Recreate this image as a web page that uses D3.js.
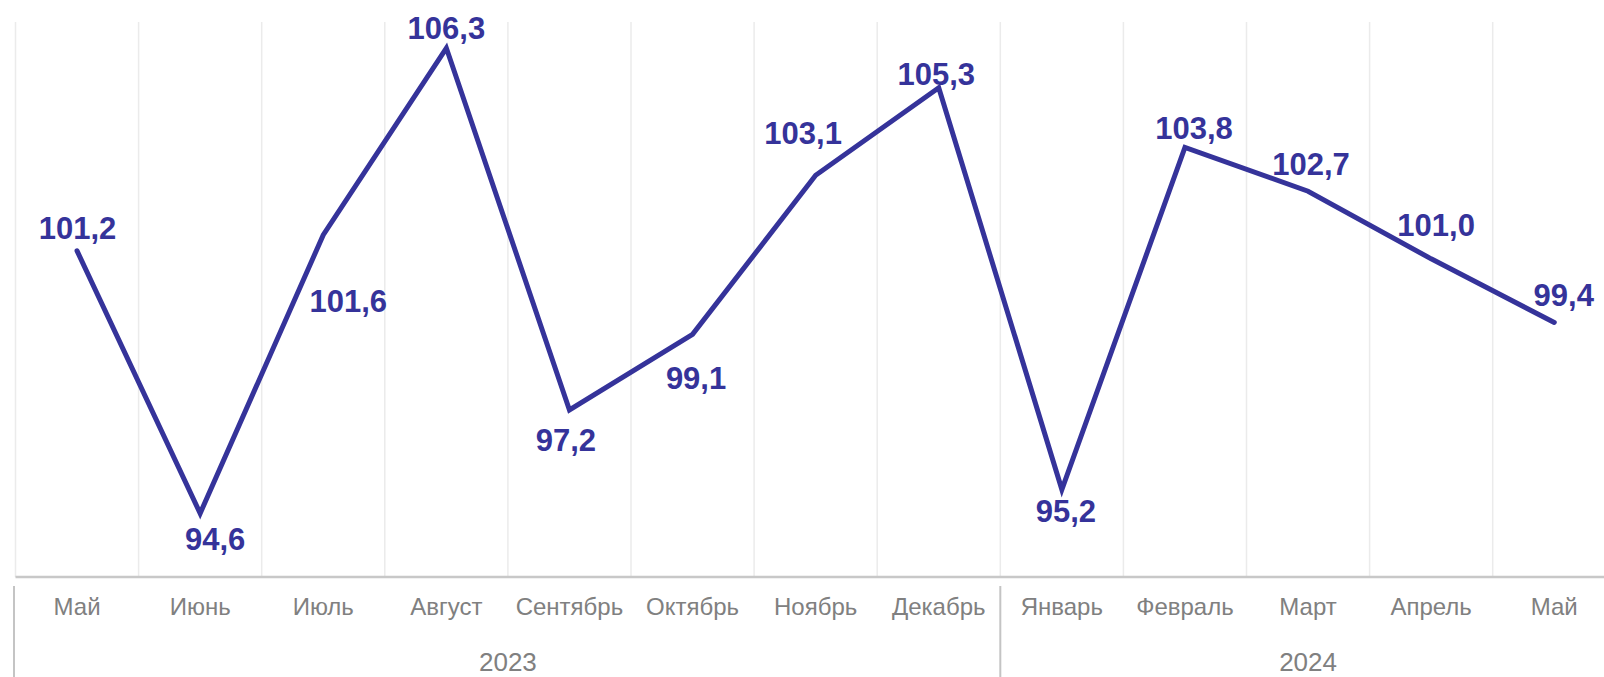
<!DOCTYPE html>
<html>
<head>
<meta charset="utf-8">
<script src="https://cdn.jsdelivr.net/npm/d3@7"></script>
<style>
  html, body { margin: 0; padding: 0; background: #fff; overflow: hidden; }
  svg { display: block; }
  text { font-family: "Liberation Sans", Arial, sans-serif; }
</style>
</head>
<body>
<svg id="chart" width="1604" height="677"></svg>
<script>
// ---- data ----
const months = ["Май", "Июнь", "Июль", "Август", "Сентябрь", "Октябрь", "Ноябрь", "Декабрь",
                "Январь", "Февраль", "Март", "Апрель", "Май"];
const years = ["2023", "2024"];
const yearOfMonth = [0, 0, 0, 0, 0, 0, 0, 0, 1, 1, 1, 1, 1];
const values = [101.2, 94.6, 101.6, 106.3, 97.2, 99.1, 103.1, 105.3, 95.2, 103.8, 102.7, 101.0, 99.4];

// ---- layout (label placement relative to the point) ----
const labelDx = [0.5, 15, 25, 0, -3.5, 3.5, -12.5, -2.5, 4, 9, 3, 5, 9.5];
const labelDy = [-11.5, 36.5, 77, -9, 40.7, 54.4, -31, -3, 32, -8.4, -16, -23, -16.4];

const svg = d3.select("#chart");
const bandW = 123.1;
const x0 = 15.5;
const keys = months.map((m, i) => i);
const x = d3.scaleBand().domain(keys).range([x0, x0 + bandW * months.length]).padding(0);
const y = d3.scaleLinear().domain([93, 107]).range([577, 20.2]);

const lineColor = "#35339a";

// vertical gridlines at band boundaries
const bounds = keys.map(k => x(k)).concat([x(keys.length - 1) + x.bandwidth()]);
svg.append("g").selectAll("line").data(bounds).join("line")
  .attr("x1", d => d).attr("x2", d => d)
  .attr("y1", 22).attr("y2", y(93))
  .attr("stroke", "#ebebeb").attr("stroke-width", 1.5);

// axis baseline
svg.append("line")
  .attr("x1", x0).attr("x2", 1604)
  .attr("y1", y(93)).attr("y2", y(93))
  .attr("stroke", "#c8c8c8").attr("stroke-width", 2.5);

// category (month) labels
svg.append("g").selectAll("text").data(months).join("text")
  .attr("x", (d, i) => x(i) + x.bandwidth() / 2)
  .attr("y", 614.5)
  .attr("text-anchor", "middle")
  .attr("font-size", 24)
  .attr("fill", "#808080")
  .text(d => d);

// year group separators and labels
const groups = years.map((yr, gi) => {
  const idx = keys.filter(k => yearOfMonth[k] === gi);
  const start = x(idx[0]);
  const end = x(idx[idx.length - 1]) + x.bandwidth();
  return { yr, start, end };
});
svg.append("g").selectAll("line").data(groups).join("line")
  .attr("x1", (d, i) => i === 0 ? d.start - 1.5 : d.start)
  .attr("x2", (d, i) => i === 0 ? d.start - 1.5 : d.start)
  .attr("y1", 586).attr("y2", 677)
  .attr("stroke", "#c4c4c4").attr("stroke-width", 2);
svg.append("g").selectAll("text").data(groups).join("text")
  .attr("x", d => (d.start + d.end) / 2)
  .attr("y", 670.5)
  .attr("text-anchor", "middle")
  .attr("font-size", 26)
  .attr("fill", "#808080")
  .text(d => d.yr);

// line
const line = d3.line()
  .x((d, i) => x(i) + x.bandwidth() / 2)
  .y(d => y(d));
svg.append("path")
  .datum(values)
  .attr("d", line)
  .attr("fill", "none")
  .attr("stroke", lineColor)
  .attr("stroke-width", 5)
  .attr("stroke-linejoin", "miter")
  .attr("stroke-linecap", "round");

// data labels
const fmt = v => v.toFixed(1).replace(".", ",");
svg.append("g").selectAll("text").data(values).join("text")
  .attr("x", (d, i) => x(i) + x.bandwidth() / 2 + labelDx[i])
  .attr("y", (d, i) => y(d) + labelDy[i])
  .attr("text-anchor", "middle")
  .attr("font-size", 31)
  .attr("font-weight", "bold")
  .attr("fill", lineColor)
  .text(d => fmt(d));
</script>
</body>
</html>
